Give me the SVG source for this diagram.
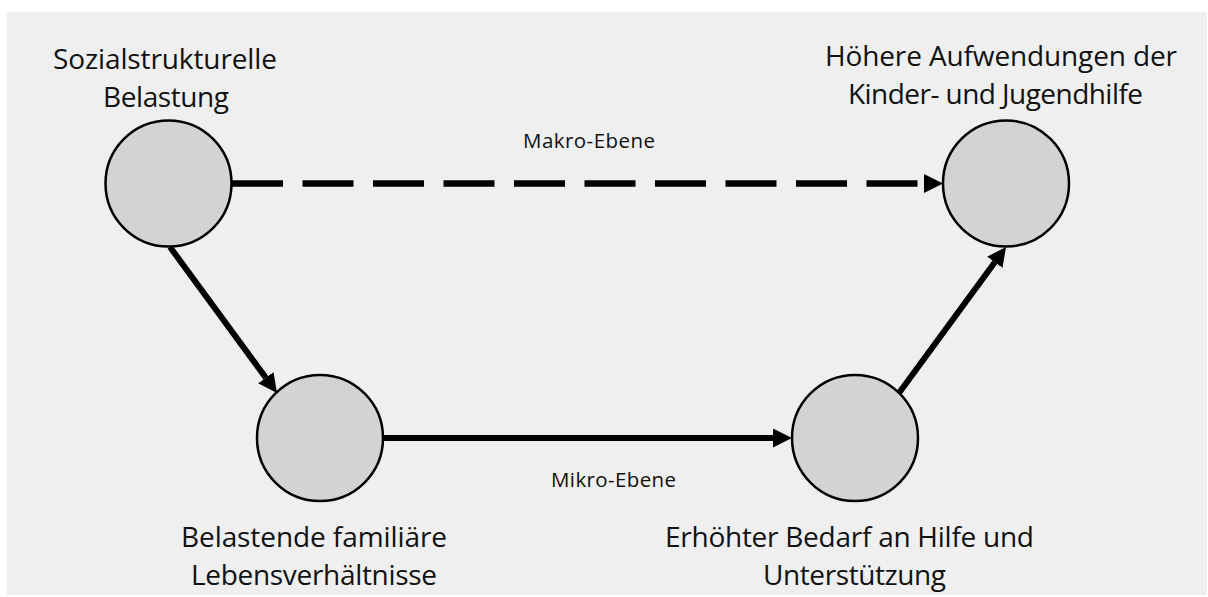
<svg xmlns="http://www.w3.org/2000/svg" width="1208" height="597" viewBox="0 0 1208 597">
  <style>
    .node circle { fill: #d3d3d3; stroke: #000; stroke-width: 2.5; }
    .lbl { font-family: "Open Sans", "Noto Sans", "Liberation Sans", sans-serif; font-size: 28px; fill: #111; text-anchor: middle; }
    .small { font-family: "Open Sans", "Noto Sans", "Liberation Sans", sans-serif; font-size: 20.5px; fill: #111; text-anchor: middle; }
    .edge { stroke: #000; stroke-width: 6; fill: none; marker-end: url(#arrow); }
    .dashed { stroke-dasharray: 51 19.5; stroke-width: 6.5; }
  </style>
  <defs>
    <marker id="arrow" markerUnits="userSpaceOnUse" markerWidth="19" markerHeight="19" refX="0" refY="9.5" orient="auto" viewBox="0 0 19 19">
      <path d="M0,0 L19,9.5 L0,19 z" fill="#000"/>
    </marker>
  </defs>
  <rect x="0" y="0" width="1208" height="597" fill="#ffffff"/>
  <rect x="7" y="12" width="1200" height="583" fill="#efefef"/>

  <g id="connectors">
    <line class="edge dashed" x1="232" y1="183.5" x2="924" y2="183.5"/>
    <line class="edge" x1="170" y1="247" x2="265.8" y2="377.7"/>
    <line class="edge" x1="383" y1="438" x2="773" y2="438"/>
    <line class="edge" x1="899" y1="393" x2="994.8" y2="262.3"/>
    <text class="small" x="589" y="148" textLength="132" lengthAdjust="spacing">Makro-Ebene</text>
    <text class="small" x="613.5" y="487" textLength="125" lengthAdjust="spacing">Mikro-Ebene</text>
  </g>

  <g id="node-sozial" class="node">
    <circle cx="168.5" cy="183.5" r="63"/>
    <text class="lbl" x="165" y="69" textLength="224" lengthAdjust="spacing">Sozialstrukturelle</text>
    <text class="lbl" x="166" y="107" textLength="126" lengthAdjust="spacing">Belastung</text>
  </g>

  <g id="node-aufwendungen" class="node">
    <circle cx="1006" cy="183.5" r="63"/>
    <text class="lbl" x="1001" y="66" textLength="352" lengthAdjust="spacing">Höhere Aufwendungen der</text>
    <text class="lbl" x="995.5" y="104" textLength="295" lengthAdjust="spacing">Kinder- und Jugendhilfe</text>
  </g>

  <g id="node-familie" class="node">
    <circle cx="320" cy="438" r="63"/>
    <text class="lbl" x="314" y="547" textLength="266" lengthAdjust="spacing">Belastende familiäre</text>
    <text class="lbl" x="314" y="585" textLength="246" lengthAdjust="spacing">Lebensverhältnisse</text>
  </g>

  <g id="node-bedarf" class="node">
    <circle cx="855" cy="438" r="63"/>
    <text class="lbl" x="849.5" y="547" textLength="369" lengthAdjust="spacing">Erhöhter Bedarf an Hilfe und</text>
    <text class="lbl" x="854.5" y="585" textLength="183" lengthAdjust="spacing">Unterstützung</text>
  </g>
</svg>
